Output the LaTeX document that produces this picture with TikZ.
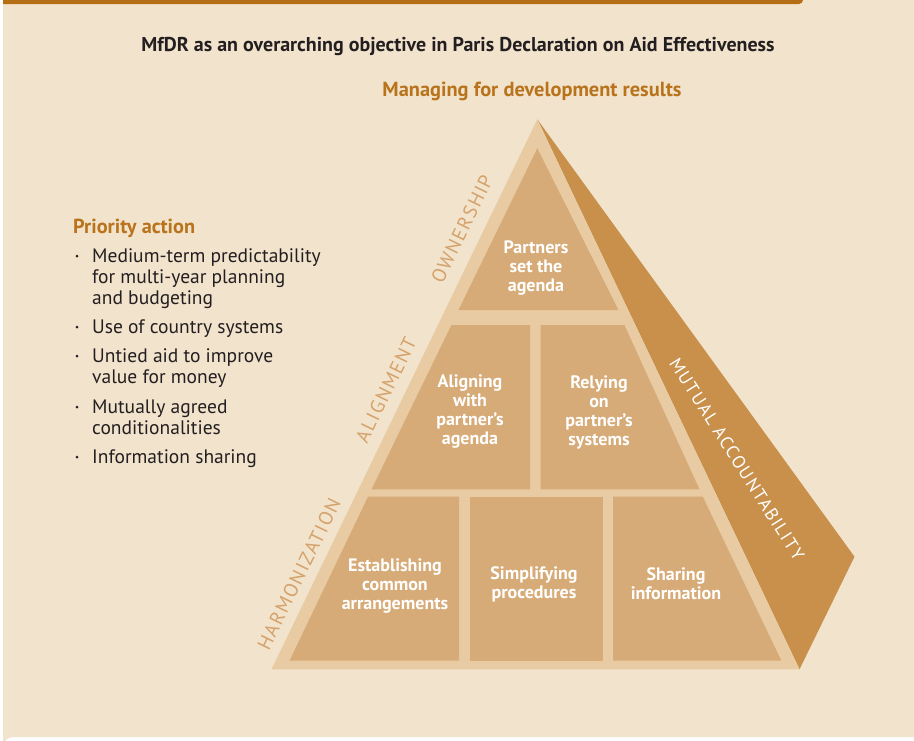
\documentclass[tikz,border=0pt]{standalone}
\usepackage{fontspec}
\setmainfont{PT Sans}
\newfontfamily\lbl[LetterSpace=8]{PT Sans}
\definecolor{bgc}{HTML}{F2E3CD}
\definecolor{rimc}{HTML}{E8CBA3}
\definecolor{cellc}{HTML}{D7AB77}
\definecolor{darkc}{HTML}{C8904B}
\definecolor{orc}{HTML}{B8731B}
\definecolor{labc}{HTML}{D4A26A}
\definecolor{barc}{HTML}{B56E14}
\definecolor{txtc}{HTML}{231F20}
\begin{document}
\begin{tikzpicture}[x=1pt,y=-1pt,
  celltext/.style={text=white,font=\fontsize{18}{19}\selectfont\bfseries,align=center,inner sep=0pt},
  sidelab/.style={text=labc,font=\fontsize{19.5}{20}\selectfont\lbl,inner sep=0pt},
  bul/.style={anchor=base west,text=txtc,font=\fontsize{19.5}{21}\selectfont,inner sep=0pt}]
\useasboundingbox (0,0) rectangle (914,740);
\fill[white] (0,0) rectangle (914,740);
% panel
\fill[bgc] (3,0) -- (914,0) -- (914,737) -- (13,737) arc[start angle=270,end angle=180,radius=10] -- cycle;
% top bar
\fill[barc] (3,-6) -- (803,-6) [rounded corners=4] -- (803,4) [sharp corners] -- (3,4) -- cycle;
% pyramid
\fill[darkc] (537.3,119.3) -- (854.5,556.7) -- (799.5,669.3) -- cycle;
\fill[rimc] (537.3,119.3) -- (799.5,669.3) -- (271.5,669.3) -- cycle;
% top cell
\fill[cellc] (537.3,148.3) -- (618.5,310) -- (458.5,310) -- cycle;
% row 2
\fill[cellc] (451.4,325) -- (530,325) -- (530,489.3) -- (371.5,489.3) -- cycle;
\fill[cellc] (540.5,325) -- (624.4,325) -- (699.5,489.3) -- (540.5,489.3) -- cycle;
% row 3
\fill[cellc] (368,496.7) -- (459,496.7) -- (459,660.7) -- (289.5,660.7) -- cycle;
\fill[cellc] (470,496.7) rectangle (603,660.7);
\fill[cellc] (613,496.7) -- (702.8,496.7) -- (781.4,660.7) -- (613,660.7) -- cycle;
% titles
\node[font=\fontsize{20}{24}\selectfont\bfseries,text=txtc] (title) at (458,47) {MfDR as an overarching objective in Paris Declaration on Aid Effectiveness};
\node[font=\fontsize{20.4}{24}\selectfont\bfseries,text=orc] (mfdr) at (532,91) {Managing for development results};
% cell texts
\node[celltext] (c1) at (536,268) {Partners\\set the\\agenda};
\node[celltext] (c2) at (470,412) {Aligning\\with\\partner’s\\agenda};
\node[celltext] (c3) at (599,412) {Relying\\on\\partner’s\\systems};
\node[celltext] (c4) at (395,586) {Establishing\\common\\arrangements};
\node[celltext] (c5) at (534,584) {Simplifying\\procedures};
\node[celltext] (c6) at (676,584) {Sharing\\information};
% side labels
\node[sidelab,rotate=64] (own) at (462,229) {OWNERSHIP};
\node[sidelab,rotate=64] (ali) at (386,390) {ALIGNMENT};
\node[sidelab,rotate=64] (har) at (299,574) {HARMONIZATION};
\node[sidelab,text=white,font=\fontsize{18}{18}\selectfont\lbl,rotate=-57.6] (mut) at (737,459) {MUTUAL ACCOUNTABILITY};
% priority action
\node[anchor=base west,font=\fontsize{20.3}{24}\selectfont\bfseries,text=orc,inner sep=0pt] (pa) at (73,233) {Priority action};
\node[bul] (b1a) at (92,262) {Medium-term predictability};
\node[bul] (b1b) at (92,283) {for multi-year planning};
\node[bul] (b1c) at (92,304) {and budgeting};
\node[bul] (b2) at (92,333) {Use of country systems};
\node[bul] (b3a) at (92,362) {Untied aid to improve};
\node[bul] (b3b) at (92,383) {value for money};
\node[bul] (b4a) at (92,413) {Mutually agreed};
\node[bul] (b4b) at (92,434) {conditionalities};
\node[bul] (b5) at (92,463) {Information sharing};
\foreach \yy in {256,327,356,407,457}
  \fill[txtc] (77,\yy) circle (1.5);
\end{tikzpicture}
\end{document}
